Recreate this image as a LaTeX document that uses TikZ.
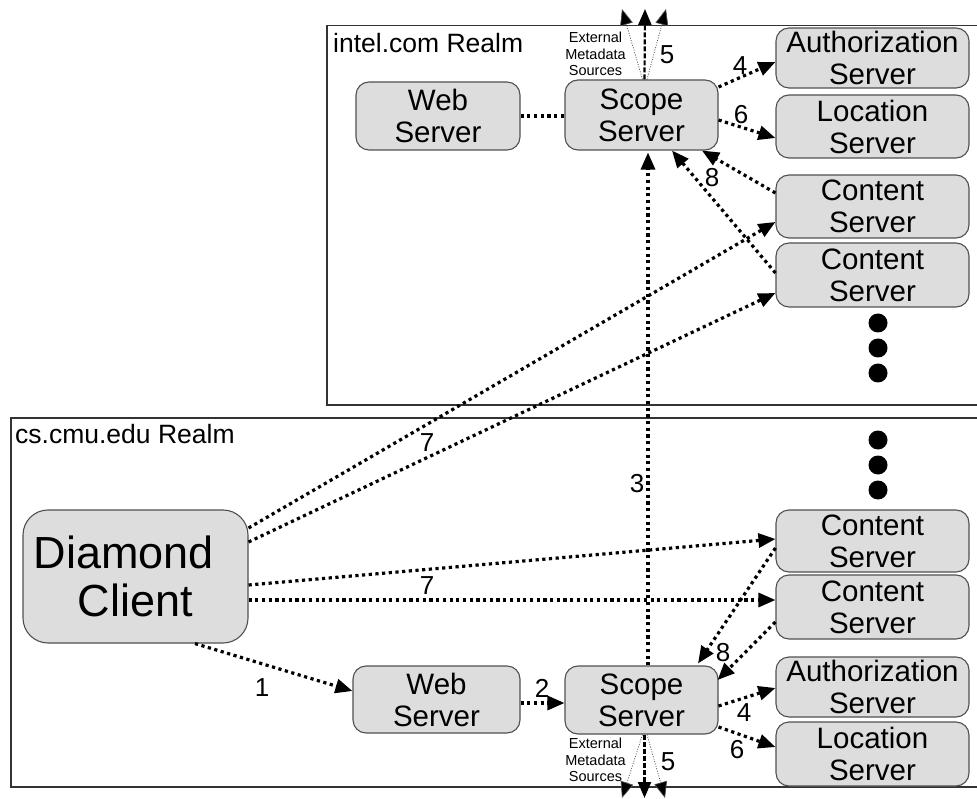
\documentclass[tikz,border=0pt]{standalone}
\usepackage{fontspec}
\setmainfont{Liberation Sans}
\usetikzlibrary{arrows.meta,calc}

\definecolor{boxfill}{HTML}{DDDDDD}
\definecolor{boxline}{HTML}{505050}

\tikzset{
  srv/.style={draw=boxline, line width=1.1pt, fill=boxfill, rounded corners=13pt,
    inner sep=0pt, align=center, font=\fontsize{29.5}{32}\selectfont},
  realm/.style={draw=black!80, line width=1.2pt},
  realmlabel/.style={anchor=base west, inner sep=0pt, font=\fontsize{26.5}{30}\selectfont},
  flow/.style={line width=3.2pt, dash pattern=on 3.2pt off 3.5pt,
    -{Triangle[length=17pt,width=14pt]}},
  link/.style={line width=3.2pt, dash pattern=on 3.2pt off 3.5pt},
  extthin/.style={line width=0.7pt, draw=black!70, dash pattern=on 1pt off 1.5pt,
    -{Triangle[length=16pt,width=13pt,fill=black]}},
  extmid/.style={line width=2.2pt, dash pattern=on 5pt off 2pt,
    -{Triangle[length=16pt,width=13pt]}},
  num/.style={inner sep=0pt, font=\fontsize{26}{30}\selectfont},
  extlabel/.style={inner sep=0pt, align=center, font=\fontsize{14.5}{16.5}\selectfont},
  more/.style={fill=black, draw=none}
}

\begin{document}
\begin{tikzpicture}[x=1pt, y=-1pt]
\useasboundingbox (0,0) rectangle (977,799);

% realms (open to the right edge)
\draw[realm] (977,25.5) -- (327,25.5) -- (327,405) -- (977,405);
\draw[realm] (977,418) -- (11,418) -- (11,787) -- (977,787);
\node[realmlabel] (intelrealm) at (333,53) {intel.com Realm};
\node[realmlabel] (cmurealm) at (15,443) {cs.cmu.edu Realm};

% intel.com servers
\node[srv, minimum width=164pt, minimum height=68pt] (tWeb) at (438,116) {Web\\Server};
\node[srv, minimum width=153pt, minimum height=70pt] (tScope) at (641.5,115) {Scope\\Server};
\node[srv, minimum width=193pt, minimum height=60pt] (tAuth) at (872.5,58) {Authorization\\Server};
\node[srv, minimum width=193pt, minimum height=63pt] (tLoc) at (872.5,126.5) {Location\\Server};
\node[srv, minimum width=193pt, minimum height=63pt] (tCont1) at (872.5,206.5) {Content\\Server};
\node[srv, minimum width=193pt, minimum height=64pt] (tCont2) at (872.5,275) {Content\\Server};

% cs.cmu.edu servers
\node[srv, rounded corners=25pt, minimum width=225pt, minimum height=133pt,
      font=\fontsize{45}{48}\selectfont] (client) at (135.5,576.5) {Diamond\kern 23pt\\Client};
\node[srv, minimum width=167pt, minimum height=67pt] (bWeb) at (436.5,699.5) {Web\\Server};
\node[srv, minimum width=153pt, minimum height=68pt] (bScope) at (641.5,700) {Scope\\Server};
\node[srv, minimum width=193pt, minimum height=62pt] (bCont1) at (872.5,541) {Content\\Server};
\node[srv, minimum width=193pt, minimum height=64pt] (bCont2) at (872.5,607) {Content\\Server};
\node[srv, minimum width=193pt, minimum height=60pt] (bAuth) at (872.5,687) {Authorization\\Server};
\node[srv, minimum width=193pt, minimum height=64pt] (bLoc) at (872.5,754) {Location\\Server};

% ellipsis dots for further content servers
\foreach \yy/\nm in {323/d1,348/d2,373/d3,440/d4,465/d5,490/d6}
  \fill[more] (878,\yy) circle (9.5pt) coordinate (\nm);

% free ends of the external metadata arrows
\coordinate (tExtL) at (622,9);
\coordinate (tExtM) at (645,9);
\coordinate (tExtR) at (666,9);
\coordinate (bExtL) at (622,798);
\coordinate (bExtM) at (644.5,798);
\coordinate (bExtR) at (665,798);

% intel.com connectors
\draw[link] (tWeb.east) -- (tWeb.east -| tScope.west);
\draw[flow] ([yshift=28pt]tScope.east) -- ([yshift=-4pt]tAuth.west);
\draw[flow] ([yshift=-5pt]tScope.east) -- ([yshift=-11.5pt]tLoc.west);
\draw[flow] ([yshift=13.5pt]tCont1.west) -- ([xshift=60.5pt]tScope.south);
\draw[flow] ([yshift=2pt]tCont2.west) -- ([xshift=30.5pt]tScope.south);
\draw[extthin] ([xshift=1pt]tScope.north) -- (tExtL);
\draw[extmid] ([xshift=3pt]tScope.north) -- (tExtM);
\draw[extthin] ([xshift=5.5pt]tScope.north) -- (tExtR);

% cross-realm connectors
\draw[flow] ([xshift=6.5pt]bScope.north) -- ([xshift=6.5pt,yshift=-2pt]tScope.south);
\draw[flow] ([yshift=48.5pt]client.east) -- ([yshift=-15.5pt]tCont1.west);
\draw[flow] ([yshift=34.5pt]client.east) -- ([yshift=-18pt]tCont2.west);

% cs.cmu.edu connectors
\draw[flow] ([yshift=-8.5pt]client.east) -- ([yshift=2pt]bCont1.west);
\draw[flow] ([yshift=-23.5pt]client.east) -- ([yshift=7pt]bCont2.west);
\draw[flow] ([xshift=59.5pt]client.south) -- ([yshift=8.5pt]bWeb.west);
\draw[flow] ([yshift=-3.5pt]bWeb.east) -- ([yshift=-3pt]bScope.west);
\draw[flow] ([yshift=-7pt]bCont1.west) -- ([xshift=56.5pt,yshift=2pt]bScope.north);
\draw[flow] ([yshift=-15pt]bCont2.west) -- ([xshift=-1pt,yshift=20pt]bScope.east);
\draw[flow] ([yshift=-6pt]bScope.east) -- ([yshift=-1pt]bAuth.west);
\draw[flow] ([yshift=-27pt]bScope.east) -- ([yshift=7pt]bLoc.west);
\draw[extthin] ([xshift=1pt]bScope.south) -- (bExtL);
\draw[extmid] ([xshift=3pt]bScope.south) -- (bExtM);
\draw[extthin] ([xshift=5.5pt]bScope.south) -- (bExtR);

% step numbers
\node[num] (n4t) at (740,66) {4};
\node[num] (n6t) at (741,115) {6};
\node[num] (n8t) at (712,178) {8};
\node[num] (n5t) at (667,55) {5};
\node[num] (n3) at (637,484) {3};
\node[num] (n7t) at (427,443) {7};
\node[num] (n7b) at (427,586) {7};
\node[num] (n1) at (262,688) {1};
\node[num] (n2) at (542,688) {2};
\node[num] (n8b) at (723,653) {8};
\node[num] (n4b) at (744,713) {4};
\node[num] (n6b) at (737,750) {6};
\node[num] (n5b) at (668,762) {5};

\node[extlabel] (extT) at (595.5,54) {External\\Metadata\\Sources};
\node[extlabel] (extB) at (595.5,760) {External\\Metadata\\Sources};
\end{tikzpicture}
\end{document}
